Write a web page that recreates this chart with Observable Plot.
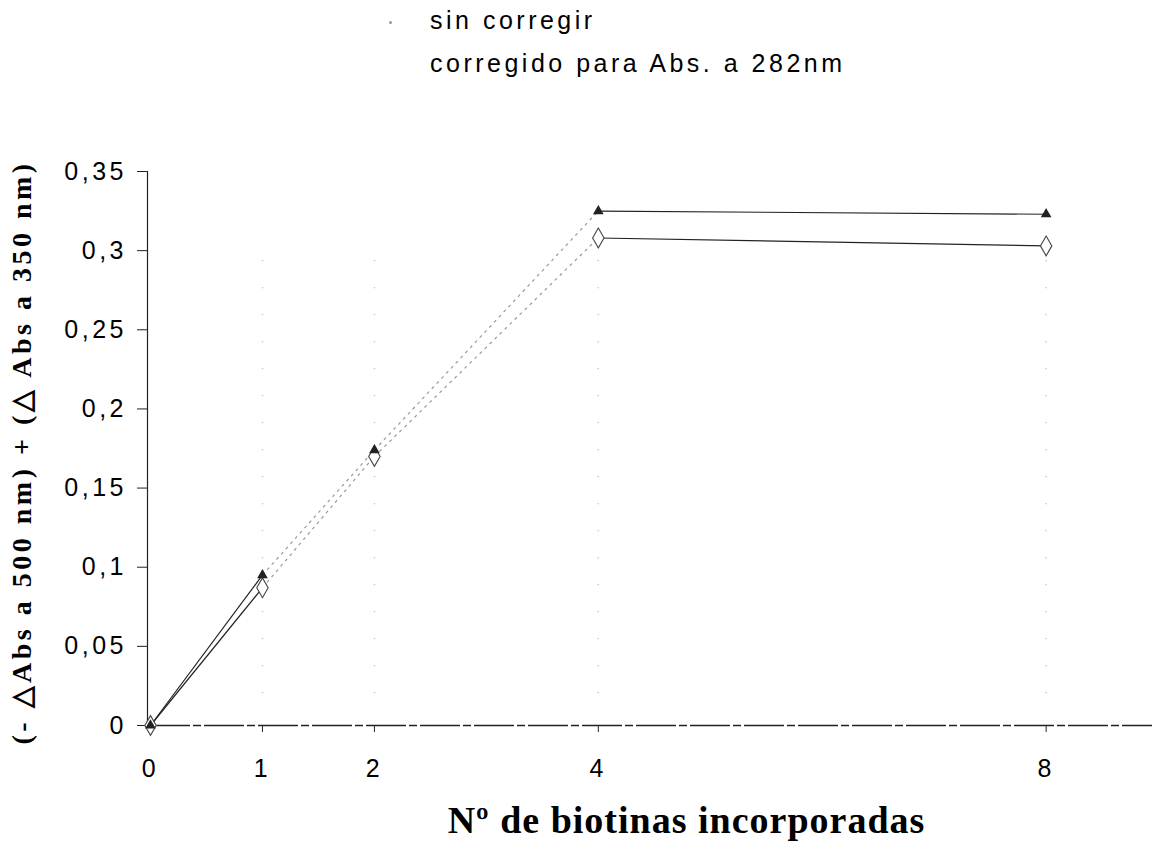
<!DOCTYPE html>
<html>
<head>
<meta charset="utf-8">
<script src="https://cdn.jsdelivr.net/npm/d3@7"></script>
<script src="https://cdn.jsdelivr.net/npm/@observablehq/plot@0.6"></script>
<style>
  body { margin: 0; background: #fff; }
  #wrap { position: relative; width: 1152px; height: 842px; overflow: hidden; }
  #wrap svg { position: absolute; left: 0; top: 0; }
  .tick-text text { letter-spacing: 3.5px; }
  .leg { position: absolute; left: 430px; font: 25px "Liberation Sans", Arial, sans-serif; letter-spacing: 3.5px; line-height: 1; color: #000; white-space: nowrap; }
  .legdot { position: absolute; width: 3px; height: 3px; border-radius: 50%; background: #999; }
</style>
</head>
<body>
<div id="wrap"></div>
<script>
// ---- data ----
const xValues = [0, 1, 2, 4, 8];
const sinCorregir = [0, 0.095, 0.174, 0.325, 0.323];
const corregido = [0, 0.087, 0.170, 0.308, 0.303];
const seriesNames = ["sin corregir", "corregido para Abs. a 282nm"];
const xTicks = [0, 1, 2, 4, 8];
const yTicks = [0, 0.05, 0.1, 0.15, 0.2, 0.25, 0.3, 0.35];
const yTickLabels = ["0", "0,05", "0,1", "0,15", "0,2", "0,25", "0,3", "0,35"];
const xTitle = "Nº de biotinas incorporadas";
const yTitle = "(- △Abs a 500 nm) + (△ Abs a 350 nm)";

const rows = [];
xValues.forEach((x, i) => {
  rows.push({x, y: sinCorregir[i], s: seriesNames[0]});
  rows.push({x, y: corregido[i], s: seriesNames[1]});
});
const rowsA = rows.filter(d => d.s === seriesNames[0]);
const rowsB = rows.filter(d => d.s === seriesNames[1]);

// consecutive segments of each series (the rising middle part looks faded in the scan)
const segs = [];
[sinCorregir, corregido].forEach((vals, k) => {
  for (let i = 0; i < xValues.length - 1; i++) {
    segs.push({x1: xValues[i], y1: vals[i], x2: xValues[i + 1], y2: vals[i + 1], faint: i === 1 || i === 2, k});
  }
});

const chart = Plot.plot({
  width: 1152,
  height: 842,
  marginTop: 171,
  marginBottom: 117,
  marginLeft: 150,
  marginRight: 0,
  style: {fontFamily: "'Liberation Sans', Arial, sans-serif", fontSize: "25px", color: "#000", background: "transparent"},
  x: {domain: [0, 8.95]},
  y: {domain: [0, 0.35]},
  marks: [
    // faint vertical scan traces at ticks
    Plot.ruleX(xTicks.filter(d => d > 0), {y1: 0.02, y2: 0.3, stroke: "#bbb", strokeDasharray: "1,26", strokeWidth: 1.5}),
    Plot.ruleY([0], {stroke: "#222", strokeWidth: 1.3, strokeDasharray: "40,3,8,3"}),
    Plot.ruleX([0], {stroke: "#222", strokeWidth: 1.2, dx: -3}),
    Plot.axisY({ticks: yTicks, tickFormat: (d, i) => yTickLabels[yTicks.indexOf(d)], tickSize: 10, tickPadding: 10.5, dx: -3, label: null, className: "tick-text", stroke: "#222"}),
    Plot.axisX({ticks: xTicks, tickSize: 7, tickPadding: 27, label: null, className: "tick-text", stroke: "#222"}),
    Plot.link(segs.filter(d => !d.faint), {x1: "x1", y1: "y1", x2: "x2", y2: "y2", stroke: "#222", strokeWidth: 1.2}),
    Plot.link(segs.filter(d => d.faint), {x1: "x1", y1: "y1", x2: "x2", y2: "y2", stroke: "#999", strokeWidth: 1.2, strokeDasharray: "3,4"}),
    Plot.dot(rowsB, {x: "x", y: "y", symbol: "diamond", r: 6, fill: "white", stroke: "#444", strokeWidth: 1.1}),
    Plot.dot(rowsA, {x: "x", y: "y", symbol: "triangle", r: 3, fill: "#222", stroke: "#222"}),
    Plot.text([yTitle], {text: d => d, frameAnchor: "left", textAnchor: "middle", dx: -128, dy: 4, rotate: -90, fontFamily: "'Liberation Serif', 'Times New Roman', serif", fontWeight: "bold", fontSize: 28}),
    Plot.text([xTitle], {text: d => d, frameAnchor: "bottom", lineAnchor: "middle", dx: 35, dy: 95, fontFamily: "'Liberation Serif', 'Times New Roman', serif", fontWeight: "bold", fontSize: 38})
  ]
});

const wrap = document.getElementById("wrap");
wrap.appendChild(chart);
// apply letter spacing to titles
chart.querySelectorAll("text").forEach(t => {
  if (t.textContent === yTitle) t.style.letterSpacing = "3.5px";
  if (t.textContent === xTitle) t.style.letterSpacing = "1px";
});

// legend
const leg1 = document.createElement("div");
leg1.className = "leg"; leg1.style.top = "8px"; leg1.textContent = seriesNames[0];
const leg2 = document.createElement("div");
leg2.className = "leg"; leg2.style.top = "51px"; leg2.textContent = seriesNames[1];
const dot = document.createElement("div");
dot.className = "legdot"; dot.style.left = "389px"; dot.style.top = "21px";
wrap.appendChild(dot);
wrap.appendChild(leg1);
wrap.appendChild(leg2);
</script>
</body>
</html>
